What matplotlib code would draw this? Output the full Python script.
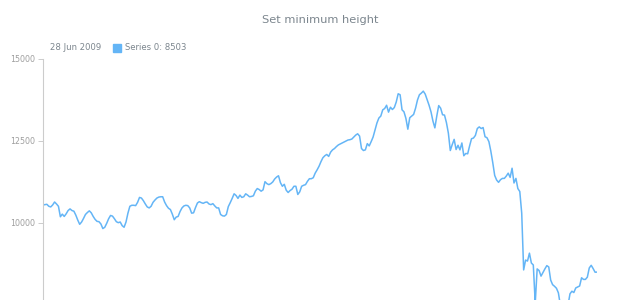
import numpy as np
import pandas as pd
import matplotlib
matplotlib.use('Agg')
import matplotlib.pyplot as plt
from matplotlib.patches import Rectangle

# weekly closes (last point = 28 Jun 2009)
values = [
    10550, 10560, 10570, 10510, 10490, 10550, 10640, 10580, 10510, 10190,
    10270, 10200, 10280, 10380, 10430, 10380, 10360, 10240, 10090, 9960,
    10030, 10140, 10260, 10320, 10370, 10310, 10200, 10110, 10050, 10040,
    9970, 9830, 9870, 9990, 10130, 10230, 10210, 10130, 10040, 10010,
    10030, 9920, 9870, 10030, 10300, 10510, 10540, 10540, 10530, 10630,
    10780, 10760, 10680, 10580, 10490, 10460, 10510, 10630, 10700, 10760,
    10790, 10800, 10800, 10640, 10530, 10450, 10410, 10270, 10100, 10180,
    10200, 10350, 10460, 10520, 10540, 10530, 10460, 10300, 10310, 10470,
    10610, 10650, 10620, 10600, 10630, 10640, 10580, 10560, 10590, 10520,
    10460, 10460, 10260, 10220, 10210, 10260, 10500, 10620, 10750, 10890,
    10840, 10750, 10850, 10780, 10800, 10890, 10850, 10800, 10810, 10830,
    10970, 11050, 11020, 10970, 11010, 11260, 11200, 11170, 11200, 11250,
    11340, 11400, 11440, 11230, 11120, 11180, 11000, 10930, 10990, 11030,
    11120, 11120, 10870, 10950, 11120, 11150, 11170, 11270, 11350, 11350,
    11380, 11520, 11620, 11730, 11870, 11990, 12050, 12090, 12030, 12160,
    12230, 12270, 12330, 12380, 12410, 12440, 12470, 12500, 12530, 12540,
    12560, 12620, 12680, 12720, 12650, 12270, 12210, 12230, 12420, 12350,
    12480, 12620, 12840, 13050, 13200, 13260, 13450, 13490, 13590, 13380,
    13530, 13460, 13520, 13690, 13940, 13910, 13450, 13390, 13190, 12860,
    13210, 13260, 13310, 13500, 13750, 13910, 13960, 14020, 13930, 13760,
    13590, 13390, 13110, 12900, 13260, 13580, 13500, 13300, 13290, 13060,
    12740, 12210, 12390, 12550, 12240, 12370, 12230, 12440, 12050, 12120,
    12110, 12350, 12570, 12590, 12670, 12880, 12930, 12880, 12910, 12630,
    12600, 12480, 12190, 11840, 11450, 11310, 11240, 11320, 11360, 11360,
    11430, 11520, 11390, 11670, 11220, 11360, 11050, 10960, 10300, 8570,
    8870, 8840, 9080, 8780, 8720, 7560, 8600, 8550, 8380, 8490,
    8600, 8700, 8660, 8260, 8120, 8070, 8010, 7870, 7500, 7100,
    6620, 6800, 7500, 7840, 7920, 7880, 8020, 8050, 8080, 8330,
    8280, 8280, 8350, 8630, 8710, 8610, 8500, 8503,
]
dates = pd.date_range(end='2009-06-28', periods=len(values), freq='W')
yticks = [10000, 12500, 15000]

line_color = '#64b5f6'
axis_color = '#cccccc'
text_color = '#7c868e'
label_color = '#9e9e9e'

fig = plt.figure(figsize=(6.2, 3.0), dpi=100)
fig.patch.set_facecolor('white')

# plot area runs below the bottom edge of the picture, like the reference
ax = fig.add_axes([43 / 620, 1 - 59 / 300 - 328 / 300, 554 / 620, 328 / 300])
ax.plot(dates, values, color=line_color, lw=1.1, solid_joinstyle='round')
ax.set_xlim(dates[0], dates[-1])
ax.set_ylim(5000, 15000)
ax.set_yticks(yticks)
ax.set_yticklabels([str(t) for t in yticks])
ax.set_xticks([])

for s in ['top', 'right', 'bottom']:
    ax.spines[s].set_visible(False)
ax.spines['left'].set_color(axis_color)
ax.spines['left'].set_linewidth(0.8)
ax.tick_params(axis='y', length=3.6, width=0.7, color=axis_color,
               labelcolor=label_color, labelsize=5.7, pad=2.2)

fig.text(320 / 620, 1 - 20 / 300, 'Set minimum height', ha='center', va='center',
         fontsize=8.2, color=text_color)

ly = 1 - 47.7 / 300
fig.text(50 / 620, ly, dates[-1].strftime('%d %b %Y'), ha='left', va='center',
         fontsize=6.1, color=text_color)
fig.patches.append(Rectangle((113 / 620, ly - 4 / 300), 8 / 620, 8 / 300,
                             transform=fig.transFigure, color=line_color))
fig.text(125 / 620, ly, 'Series 0: %d' % values[-1], ha='left', va='center',
         fontsize=6.1, color=text_color)

fig.savefig('out.png', dpi=100)
